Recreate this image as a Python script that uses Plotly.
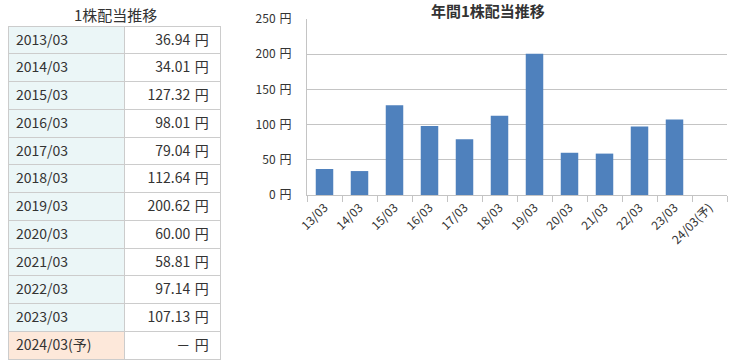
import plotly.graph_objects as go

# ---- data ----
periods = ["2013/03", "2014/03", "2015/03", "2016/03", "2017/03", "2018/03",
           "2019/03", "2020/03", "2021/03", "2022/03", "2023/03", "2024/03(予)"]
short_labels = ["13/03", "14/03", "15/03", "16/03", "17/03", "18/03",
                "19/03", "20/03", "21/03", "22/03", "23/03", "24/03(予)"]
dividends = [36.94, 34.01, 127.32, 98.01, 79.04, 112.64,
             200.62, 60.00, 58.81, 97.14, 107.13, None]
table_title = "1株配当推移"
chart_title = "年間1株配当推移"
y_ticks = [0, 50, 100, 150, 200, 250]

W, H = 734, 362
FONT = "Noto Sans CJK JP, Noto Sans, sans-serif"
TXT = "#333333"
GRID = "#c4c4c4"
SP = "\u2004"

value_text = [(f"{v:.2f}{SP}円" if v is not None else f"－{SP}円") for v in dividends]
col1_fill = ["#ebf6f7"] * (len(periods) - 1) + ["#fde8da"]
col2_fill = ["#ffffff"] * len(periods)

fig = go.Figure()

fig.add_trace(go.Table(
    domain=dict(x=[8 / W, 220 / W], y=[0, 1 - 25 / H]),
    columnwidth=[116, 96],
    header=dict(values=["", ""], height=1, fill_color="white",
                line=dict(color="white", width=0)),
    cells=dict(
        values=[periods, [t + " " for t in value_text]],
        align=["left", "right"],
        fill_color=[col1_fill, col2_fill],
        line=dict(color="#cccccc", width=1),
        font=dict(family=FONT, size=14, color=TXT),
        height=27.75,
    ),
))

fig.add_trace(go.Bar(
    x=short_labels, y=dividends,
    marker=dict(color="#4f81bd", line=dict(width=0)),
    hoverinfo="x+y",
))

fig.update_layout(
    width=W, height=H,
    margin=dict(l=0, r=0, t=0, b=0, autoexpand=False),
    paper_bgcolor="white", plot_bgcolor="white",
    showlegend=False,
    bargap=0.5,
    font=dict(family=FONT, color=TXT),
    xaxis=dict(
        domain=[307 / W, 727 / W],
        type="category",
        tickson="boundaries",
        ticks="outside", ticklen=6, tickcolor=GRID, tickwidth=1,
        tickangle=-45,
        showline=True, linecolor=GRID, linewidth=1,
        showgrid=False,
        automargin=False,
        tickfont=dict(family=FONT, size=12, color=TXT),
    ),
    yaxis=dict(
        domain=[1 - 195 / H, 1 - 19 / H],
        range=[0, 250],
        tickvals=y_ticks,
        ticktext=[f"{t}{SP}円" for t in y_ticks],
        showgrid=True, gridcolor=GRID, gridwidth=1,
        showline=True, linecolor=GRID, linewidth=1,
        zeroline=False,
        automargin=False,
        ticks="", ticklabelstandoff=12,
        tickfont=dict(family=FONT, size=12, color=TXT),
    ),
    annotations=[
        dict(text=table_title, x=115 / W, y=1 - 15 / H, xref="paper", yref="paper",
             showarrow=False, xanchor="center", yanchor="middle",
             font=dict(family=FONT, size=15, color=TXT)),
        dict(text="<b>" + chart_title + "</b>", x=488 / W, y=1 - 10 / H,
             xref="paper", yref="paper",
             showarrow=False, xanchor="center", yanchor="middle",
             font=dict(family=FONT, size=15, color=TXT)),
    ],
)

fig.write_html(
    "out.html",
    config={"displayModeBar": False},
    post_script="document.body.style.margin='0';document.body.style.overflow='hidden';",
)
